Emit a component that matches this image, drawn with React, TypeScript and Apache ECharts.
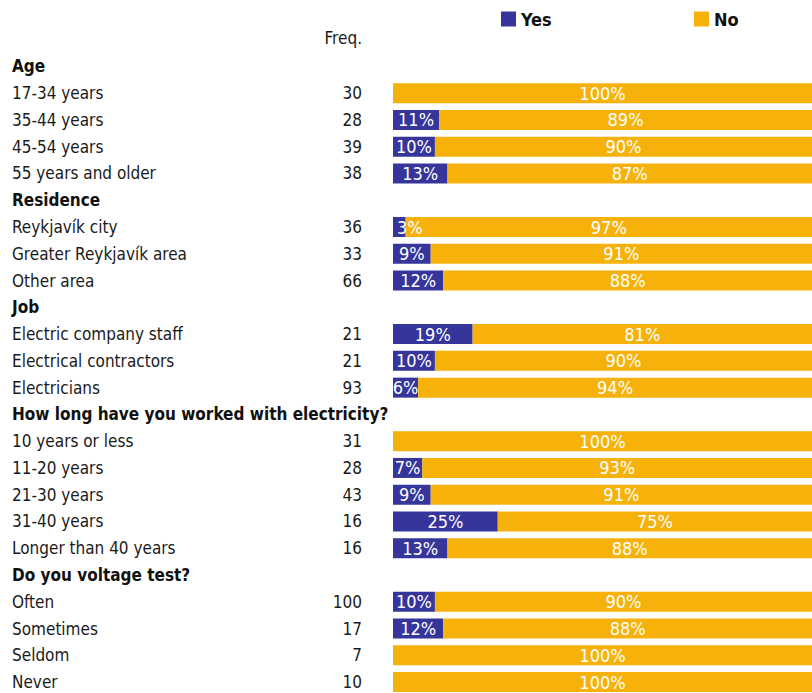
import React, { useEffect, useRef } from "react";
import * as echarts from "echarts";

const categories = [
  "Age", "17-34 years", "35-44 years", "45-54 years", "55 years and older",
  "Residence", "Reykjavík city", "Greater Reykjavík area", "Other area",
  "Job", "Electric company staff", "Electrical contractors", "Electricians",
  "How long have you worked with electricity?", "10 years or less", "11-20 years", "21-30 years", "31-40 years", "Longer than 40 years",
  "Do you voltage test?", "Often", "Sometimes", "Seldom", "Never",
];
const headers = ["Age", "Residence", "Job", "How long have you worked with electricity?", "Do you voltage test?"];
const freq = [null, 30, 28, 39, 38, null, 36, 33, 66, null, 21, 21, 93, null, 31, 28, 43, 16, 16, null, 100, 17, 7, 10];
const yesPct = [null, 0, 11, 10, 13, null, 3, 9, 12, null, 19, 10, 6, null, 0, 7, 9, 25, 13, null, 10, 12, 0, 0];
const noPct = [null, 100, 89, 90, 87, null, 97, 91, 88, null, 81, 90, 94, null, 100, 93, 91, 75, 88, null, 90, 88, 100, 100];

const FONT = '"Liberation Sans Narrow", "DejaVu Sans Condensed", "Arial Narrow", sans-serif';
const YES_COLOR = "#35359B";
const NO_COLOR = "#F6B20B";

export default function App() {
  const ref = useRef<HTMLDivElement>(null);
  useEffect(() => {
    document.body.style.margin = "0";
    document.body.style.overflow = "hidden";
    const chart = echarts.init(ref.current!, null, { renderer: "svg" });
    const labelBase = {
      show: true,
      color: "#ffffff",
      fontFamily: FONT,
      fontSize: 18,
    };
    const legendText = { fontFamily: FONT, fontSize: 18, fontWeight: "bold", color: "#111" };
    chart.setOption({
      animation: false,
      textStyle: { fontFamily: FONT },
      legend: [
        {
          data: ["Yes"], left: 496, top: 5, itemWidth: 15, itemHeight: 15, itemGap: 0,
          icon: "rect", selectedMode: false, textStyle: legendText,
        },
        {
          data: ["No"], left: 689, top: 5, itemWidth: 15, itemHeight: 15, itemGap: 0,
          icon: "rect", selectedMode: false, textStyle: legendText,
        },
      ],
      graphic: [
        {
          type: "text", x: 362, y: 38,
          style: { text: "Freq.", fontFamily: FONT, fontSize: 17, fill: "#1a1a1a", align: "right", verticalAlign: "middle" },
        },
      ],
      grid: { left: 393, top: 53, width: 419, height: 642.5, containLabel: false },
      xAxis: { type: "value", min: 0, max: 100, show: false },
      yAxis: [
        {
          type: "category", data: categories, inverse: true,
          axisLine: { show: false }, axisTick: { show: false }, splitLine: { show: false },
          axisLabel: {
            interval: 0, align: "left", margin: 381,
            formatter: (v: string) => (headers.includes(v) ? `{h|${v}}` : `{n|${v}}`),
            rich: {
              h: { fontFamily: FONT, fontSize: 17, fontWeight: "bold", color: "#111" },
              n: { fontFamily: FONT, fontSize: 17, color: "#1a1a1a" },
            },
          },
        },
        {
          type: "category", data: categories, inverse: true, position: "left", offset: 0,
          axisLine: { show: false }, axisTick: { show: false }, splitLine: { show: false },
          axisLabel: {
            interval: 0, align: "right", margin: 31,
            fontFamily: FONT, fontSize: 17, color: "#1a1a1a",
            formatter: (_v: string, i: number) => (freq[i] == null ? "" : String(freq[i])),
          },
        },
      ],
      series: [
        {
          name: "Yes", type: "bar", stack: "t", barWidth: 20, yAxisIndex: 0,
          itemStyle: { color: YES_COLOR },
          data: yesPct.map((v) =>
            v != null && v > 0 && v < 5
              ? { value: v, label: { position: "insideLeft", distance: 4 } }
              : v
          ),
          label: {
            ...labelBase, position: "inside",
            formatter: (p: any) => (p.value ? `${p.value}%` : ""),
          },
        },
        {
          name: "No", type: "bar", stack: "t", barWidth: 20, yAxisIndex: 0,
          itemStyle: { color: NO_COLOR },
          data: noPct,
          label: {
            ...labelBase, position: "inside",
            formatter: (p: any) => (p.value ? `${p.value}%` : ""),
          },
        },
      ],
    });
    return () => chart.dispose();
  }, []);
  return <div ref={ref} style={{ width: 812, height: 700, position: "absolute", left: 0, top: 0 }} />;
}
